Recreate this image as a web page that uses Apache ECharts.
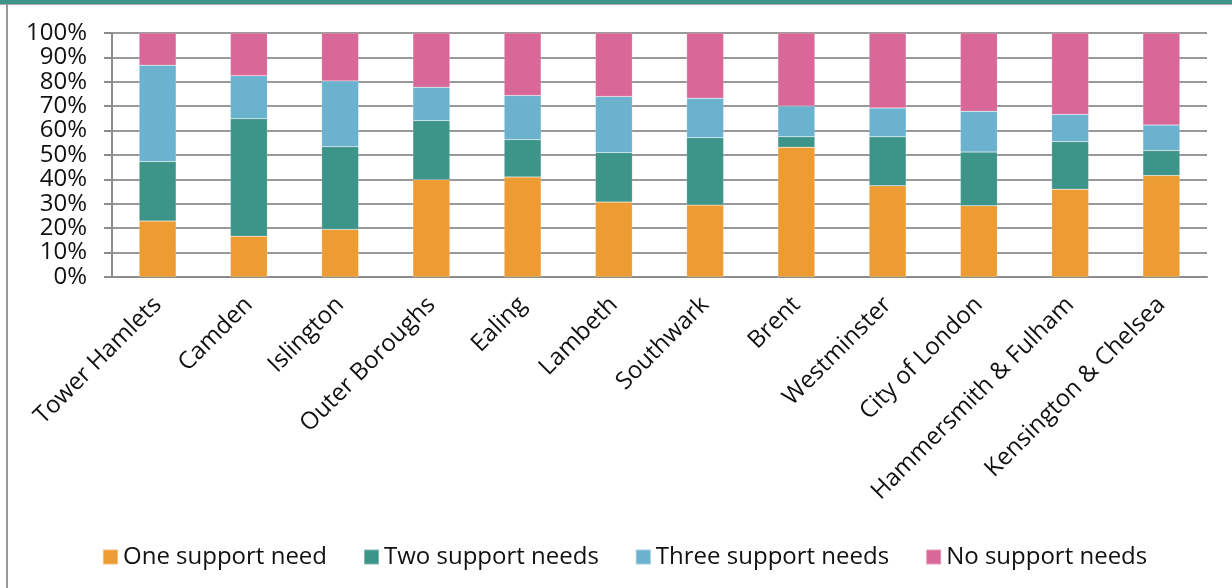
<!DOCTYPE html>
<html>
<head>
<meta charset="utf-8">
<script src="https://cdn.jsdelivr.net/npm/echarts@6/dist/echarts.min.js"></script>
<style>
html,body{margin:0;padding:0;background:#fff;}
#c{width:1232px;height:588px;}
</style>
</head>
<body>
<div id="c"></div>
<script>
const categories = ["Tower Hamlets","Camden","Islington","Outer Boroughs","Ealing","Lambeth","Southwark","Brent","Westminster","City of London","Hammersmith & Fulham","Kensington & Chelsea"];
const oneNeed   = [22.9,16.7,19.5,39.9,41.0,30.7,29.5,53.2,37.4,29.2,36.0,41.6];
const twoNeeds  = [24.4,48.2,33.9,24.2,15.3,20.3,27.6,4.3,20.1,22.0,19.5,10.2];
const threeNeeds= [39.5,17.6,26.9,13.7,18.1,23.0,16.2,12.6,11.8,16.7,11.1,10.5];
const noNeeds   = [13.2,17.5,19.7,22.2,25.6,26.0,26.7,29.9,30.7,32.1,33.4,37.7];
const seriesNames = ["One support need","Two support needs","Three support needs","No support needs"];
const colors = ["#ED9C34","#3D9489","#6BB2CE","#D96898"];

const FONT = "Open Sans";
const chart = echarts.init(document.getElementById('c'), null, {renderer:'canvas'});
const dataSets = [oneNeed, twoNeeds, threeNeeds, noNeeds];
chart.setOption({
  animation:false,
  color: colors,
  textStyle:{fontFamily:FONT},
  graphic:[
    {type:'rect', shape:{x:0,y:0,width:1232,height:4}, style:{fill:'#3D9489'}, z:10},
    {type:'rect', shape:{x:0,y:4,width:1232,height:1}, style:{fill:'#aaaaaa'}, z:10},
    {type:'rect', shape:{x:6,y:4,width:2,height:584}, style:{fill:'#999999'}, z:10}
  ],
  grid:{left:112,right:25,top:33,bottom:311,containLabel:false},
  legend:{
    top:540, left:97,
    itemWidth:15, itemHeight:15, itemGap:36,
    icon:'rect',
    textStyle:{fontFamily:FONT,fontSize:24,color:'#111'},
    data: seriesNames
  },
  xAxis:{
    type:'category',
    data:categories,
    axisLine:{lineStyle:{color:'#8c8c8c',width:2}},
    axisTick:{length:8,lineStyle:{color:'#8c8c8c',width:2}},
    axisLabel:{rotate:45, interval:0, margin:24, fontFamily:FONT, fontSize:24, color:'#111'}
  },
  yAxis:{
    type:'value', min:0, max:100, interval:10,
    axisLine:{show:true,lineStyle:{color:'#8c8c8c',width:2}},
    axisTick:{show:true,length:8,lineStyle:{color:'#8c8c8c',width:2}},
    splitLine:{lineStyle:{color:'#999999',width:2}},
    axisLabel:{formatter:'{value}%', margin:25, fontFamily:FONT, fontSize:24, color:'#111'}
  },
  series: seriesNames.map((n,i)=>({
    name:n, type:'bar', stack:'total', barWidth:37,
    itemStyle:{color:colors[i], borderColor:'rgba(255,255,255,0.35)', borderWidth:0.5},
    data:dataSets[i]
  }))
});
</script>
</body>
</html>
